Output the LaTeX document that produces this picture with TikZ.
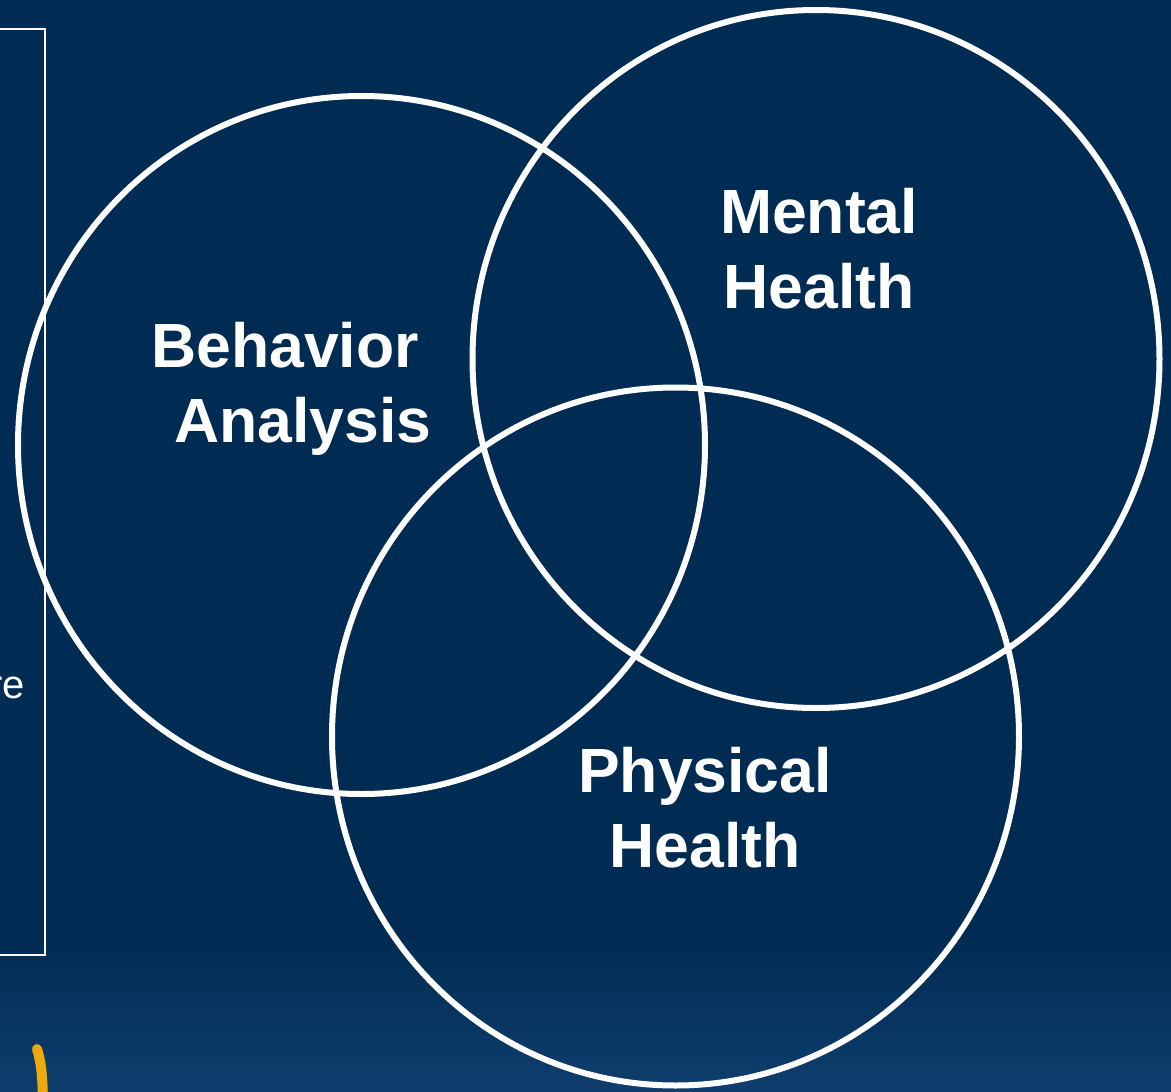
\documentclass[tikz,border=0pt]{standalone}
\usepackage{fontspec}
\setmainfont{Liberation Sans}
\usetikzlibrary{shapes.geometric}
\definecolor{navy}{HTML}{002B52}
\definecolor{navylow}{HTML}{0F3E6E}
\definecolor{gold}{HTML}{EEAA0A}
\tikzset{
  ring/.style={ellipse,draw=white,line width=6pt,minimum width=687pt,minimum height=698pt,inner sep=0pt},
  tag/.style={text=white,font=\bfseries\fontsize{62.5}{75}\selectfont,align=center,inner sep=0pt,anchor=base}
}
\begin{document}
\begin{tikzpicture}[x=1pt,y=-1pt]
  \useasboundingbox (0,0) rectangle (1171,1092);
  % background
  \fill[navy] (0,0) rectangle (1171,1092);
  \shade[top color=navy,bottom color=navylow] (0,935) rectangle (1171,1092);

  % side panel (cut off at the left)
  \draw[white,line width=2pt] (-10,29) -- (45,29) -- (45,955) -- (-10,955);
  \node[text=white,font=\fontsize{40}{48}\selectfont,anchor=base east,inner sep=0pt] (sidetext) at (25,698) {re};
  \draw[gold,line width=10pt,line cap=round] (37,1049) .. controls (41,1062) and (43,1076) .. (43,1110);

  % the three circles
  \node[ring] (behavior) at (361.5,445) {};
  \node[ring] (mental) at (816,359) {};
  \node[ring] (physical) at (675.5,736.5) {};

  % labels
  \node[tag] (behaviorlbl) at (294,442) {Behavior\hspace*{18pt}\\\hspace*{18pt}Analysis};
  \node[tag] (mentallbl) at (819,308) {Mental\\Health};
  \node[tag] (physicallbl) at (705,867) {Physical\\Health};
\end{tikzpicture}
\end{document}
